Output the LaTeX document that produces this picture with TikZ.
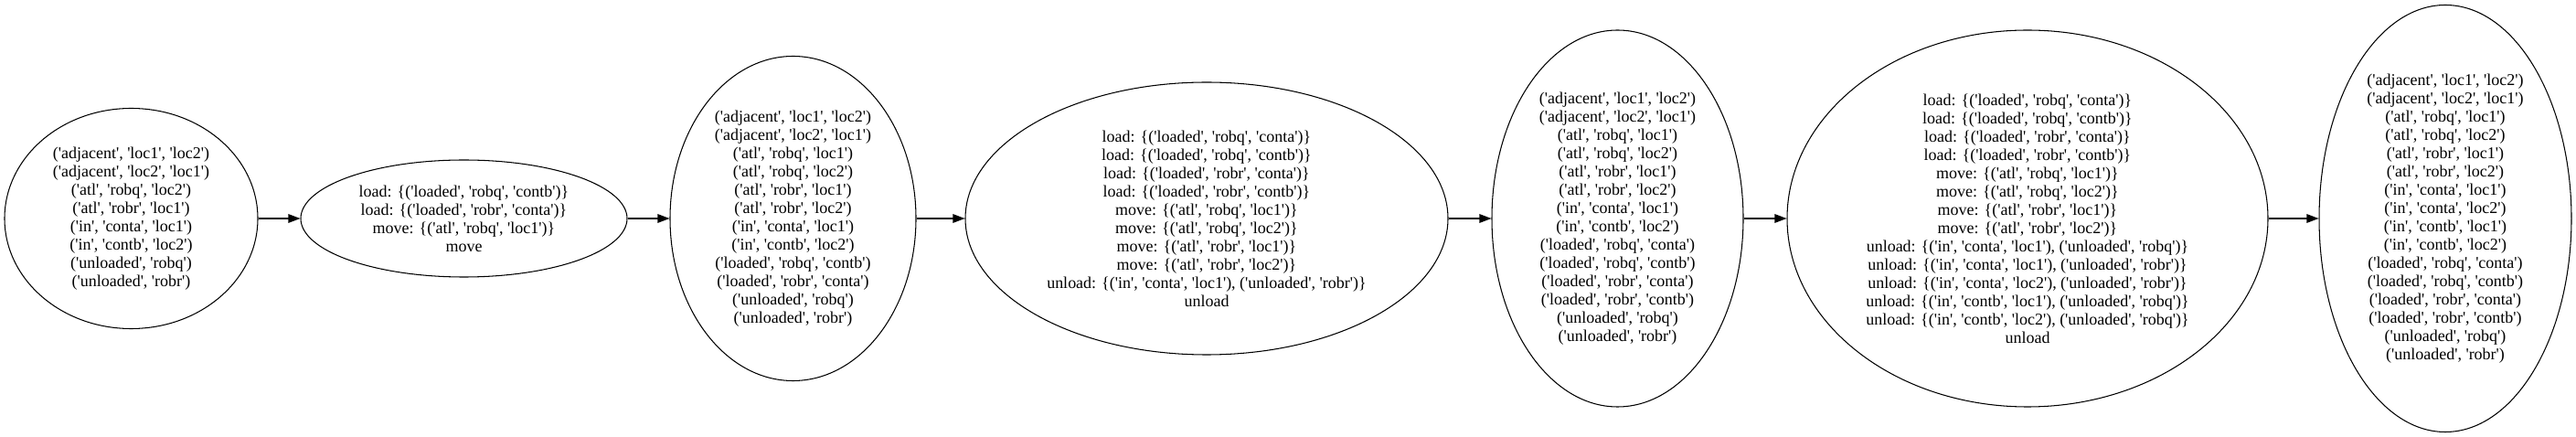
\documentclass[tikz,border=0pt]{standalone}
\usepackage{fontspec}
\newfontfamily\gvfont{Liberation Serif}
\usepackage{tikz}
\usetikzlibrary{arrows.meta, positioning, shapes.geometric}

\tikzset{
  state/.style={draw, ellipse, line width=0.6pt, inner sep=0pt, align=center,
    font=\gvfont\fontsize{10.24}{11.38}\selectfont},
  trans/.style={draw, line width=0.6pt, -{Triangle[length=0.26cm, width=0.19cm]}}
}

\begin{document}
\begin{tikzpicture}
        \useasboundingbox (0,-4.78) rectangle (56.36,4.78);
        \node[state, minimum width=5.54cm, minimum height=4.82cm] (s0) at (2.87,0) {('adjacent', 'loc1', 'loc2')\\('adjacent', 'loc2', 'loc1')\\('atl', 'robq', 'loc2')\\('atl', 'robr', 'loc1')\\('in', 'conta', 'loc1')\\('in', 'contb', 'loc2')\\('unloaded', 'robq')\\('unloaded', 'robr')};
        \node[state, minimum width=7.14cm, minimum height=2.56cm] (a0) at (10.15,0) {load: \{('loaded', 'robq', 'contb')\}\\load: \{('loaded', 'robr', 'conta')\}\\move: \{('atl', 'robq', 'loc1')\}\\move};
        \node[state, minimum width=5.38cm, minimum height=7.10cm] (s1) at (17.35,0) {('adjacent', 'loc1', 'loc2')\\('adjacent', 'loc2', 'loc1')\\('atl', 'robq', 'loc1')\\('atl', 'robq', 'loc2')\\('atl', 'robr', 'loc1')\\('atl', 'robr', 'loc2')\\('in', 'conta', 'loc1')\\('in', 'contb', 'loc2')\\('loaded', 'robq', 'contb')\\('loaded', 'robr', 'conta')\\('unloaded', 'robq')\\('unloaded', 'robr')};
        \node[state, minimum width=10.56cm, minimum height=5.96cm] (a1) at (26.40,0) {load: \{('loaded', 'robq', 'conta')\}\\load: \{('loaded', 'robq', 'contb')\}\\load: \{('loaded', 'robr', 'conta')\}\\load: \{('loaded', 'robr', 'contb')\}\\move: \{('atl', 'robq', 'loc1')\}\\move: \{('atl', 'robq', 'loc2')\}\\move: \{('atl', 'robr', 'loc1')\}\\move: \{('atl', 'robr', 'loc2')\}\\unload: \{('in', 'conta', 'loc1'), ('unloaded', 'robr')\}\\unload};
        \node[state, minimum width=5.50cm, minimum height=8.24cm] (s2) at (35.39,0) {('adjacent', 'loc1', 'loc2')\\('adjacent', 'loc2', 'loc1')\\('atl', 'robq', 'loc1')\\('atl', 'robq', 'loc2')\\('atl', 'robr', 'loc1')\\('atl', 'robr', 'loc2')\\('in', 'conta', 'loc1')\\('in', 'contb', 'loc2')\\('loaded', 'robq', 'conta')\\('loaded', 'robq', 'contb')\\('loaded', 'robr', 'conta')\\('loaded', 'robr', 'contb')\\('unloaded', 'robq')\\('unloaded', 'robr')};
        \node[state, minimum width=10.52cm, minimum height=8.24cm] (a2) at (44.36,0) {load: \{('loaded', 'robq', 'conta')\}\\load: \{('loaded', 'robq', 'contb')\}\\load: \{('loaded', 'robr', 'conta')\}\\load: \{('loaded', 'robr', 'contb')\}\\move: \{('atl', 'robq', 'loc1')\}\\move: \{('atl', 'robq', 'loc2')\}\\move: \{('atl', 'robr', 'loc1')\}\\move: \{('atl', 'robr', 'loc2')\}\\unload: \{('in', 'conta', 'loc1'), ('unloaded', 'robq')\}\\unload: \{('in', 'conta', 'loc1'), ('unloaded', 'robr')\}\\unload: \{('in', 'conta', 'loc2'), ('unloaded', 'robr')\}\\unload: \{('in', 'contb', 'loc1'), ('unloaded', 'robq')\}\\unload: \{('in', 'contb', 'loc2'), ('unloaded', 'robq')\}\\unload};
        \node[state, minimum width=5.52cm, minimum height=9.34cm] (s3) at (53.50,0) {('adjacent', 'loc1', 'loc2')\\('adjacent', 'loc2', 'loc1')\\('atl', 'robq', 'loc1')\\('atl', 'robq', 'loc2')\\('atl', 'robr', 'loc1')\\('atl', 'robr', 'loc2')\\('in', 'conta', 'loc1')\\('in', 'conta', 'loc2')\\('in', 'contb', 'loc1')\\('in', 'contb', 'loc2')\\('loaded', 'robq', 'conta')\\('loaded', 'robq', 'contb')\\('loaded', 'robr', 'conta')\\('loaded', 'robr', 'contb')\\('unloaded', 'robq')\\('unloaded', 'robr')};
        \draw[trans] (s0) -- (a0);
        \draw[trans] (a0) -- (s1);
        \draw[trans] (s1) -- (a1);
        \draw[trans] (a1) -- (s2);
        \draw[trans] (s2) -- (a2);
        \draw[trans] (a2) -- (s3);
    \end{tikzpicture}
\end{document}
